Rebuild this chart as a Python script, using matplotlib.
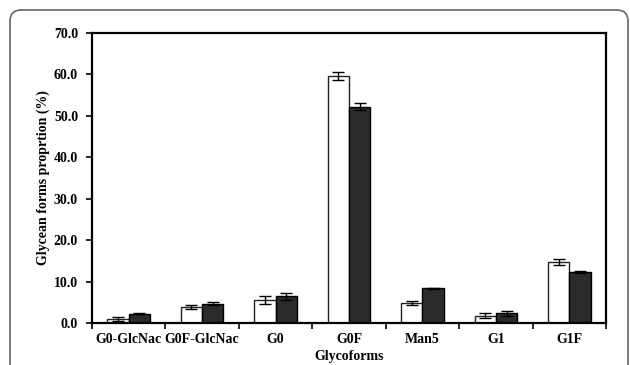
import numpy as np
import matplotlib.pyplot as plt
from matplotlib.patches import FancyBboxPatch
from matplotlib.transforms import IdentityTransform

# data
glycoforms = ['G0-GlcNac', 'G0F-GlcNac', 'G0', 'G0F', 'Man5', 'G1', 'G1F']
white_vals = [1.0, 3.9, 5.5, 59.6, 4.9, 1.8, 14.7]
white_err = [0.5, 0.4, 1.0, 0.9, 0.5, 0.7, 0.7]
black_vals = [2.2, 4.7, 6.4, 52.2, 8.4, 2.4, 12.3]
black_err = [0.1, 0.3, 0.8, 0.9, 0.1, 0.6, 0.3]
yticks = np.arange(0, 71, 10)

plt.rcParams['font.family'] = ['Liberation Serif', 'DejaVu Serif']

fig = plt.figure(figsize=(6.3, 3.65), dpi=100)
ax = fig.add_axes([0.146, 0.115, 0.816, 0.795])

# rounded outer frame (pixel coords), open at bottom
frame = FancyBboxPatch((10, -60), 618, 415,
                       boxstyle='round,pad=0,rounding_size=11',
                       transform=IdentityTransform(), facecolor='none',
                       edgecolor='#666666', linewidth=1.2, clip_on=False)
fig.patches.append(frame)

x = np.arange(len(glycoforms))
w = 0.29
ekw = dict(elinewidth=1.0, capthick=1.0, ecolor='black')
ax.bar(x - w / 2, white_vals, w, yerr=white_err, capsize=4.5, color='white',
       edgecolor='#222222', linewidth=1.0, error_kw=ekw)
ax.bar(x + w / 2, black_vals, w, yerr=black_err, capsize=4.5, color='#2b2b2b',
       edgecolor='black', linewidth=1.0, error_kw=ekw)

ax.set_xlim(-0.5, len(glycoforms) - 0.5)
ax.set_ylim(0, 70)
ax.set_yticks(yticks)
ax.set_yticklabels(['%.1f' % v for v in yticks], fontweight='bold', fontsize=10)

# category labels centred, ticks at boundaries
ax.set_xticks(np.arange(len(glycoforms) + 1) - 0.5)
ax.set_xticklabels([])
ax.set_xticks(x, minor=True)
ax.set_xticklabels(glycoforms, minor=True, fontweight='bold', fontsize=10)
ax.tick_params(axis='x', which='minor', length=0, pad=7)
ax.tick_params(axis='both', which='major', direction='out', length=4, width=1.2)
ax.tick_params(axis='y', pad=6)

for s in ax.spines.values():
    s.set_linewidth(1.6)

ax.set_xlabel('Glycoforms', fontweight='bold', fontsize=10, labelpad=3)
ax.set_ylabel('Glycean forms proprtion (%)', fontweight='bold', fontsize=10, labelpad=3)

fig.savefig('out.png', dpi=100)
